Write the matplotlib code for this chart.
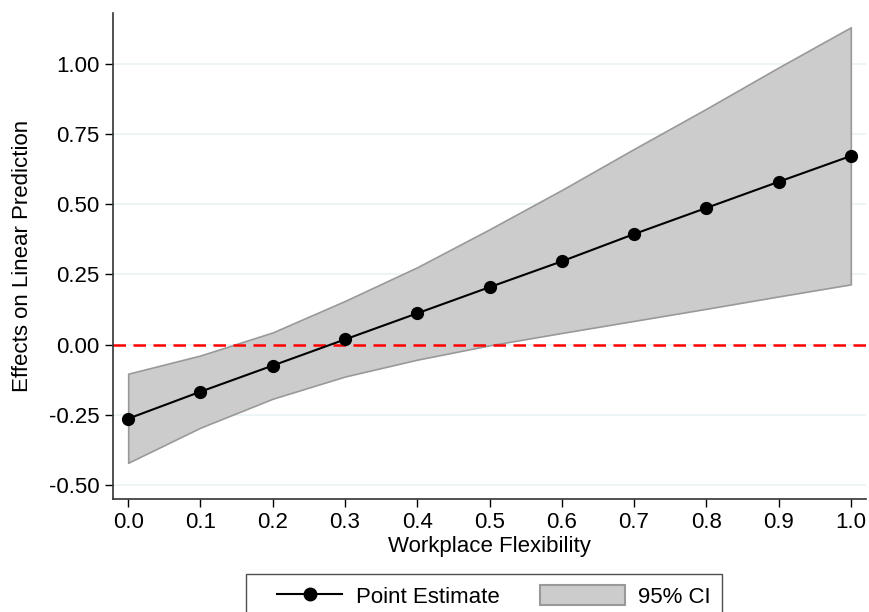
import matplotlib
matplotlib.use('Agg')
import matplotlib.pyplot as plt
from matplotlib.patches import Patch
from matplotlib.lines import Line2D
from matplotlib.legend_handler import HandlerLine2D

plt.rcParams['font.family'] = ['Liberation Sans', 'DejaVu Sans']

# Workplace flexibility grid and marginal effects
flex     = [0.0, 0.1, 0.2, 0.3, 0.4, 0.5, 0.6, 0.7, 0.8, 0.9, 1.0]
estimate = [-0.264, -0.168, -0.075, 0.018, 0.111, 0.204, 0.296, 0.393, 0.486, 0.579, 0.671]
ci_upper = [-0.104, -0.039, 0.043, 0.155, 0.275, 0.410, 0.550, 0.696, 0.839, 0.986, 1.129]
ci_lower = [-0.421, -0.296, -0.193, -0.114, -0.054, -0.003, 0.041, 0.084, 0.127, 0.171, 0.214]

yticks = [-0.50, -0.25, 0.00, 0.25, 0.50, 0.75, 1.00]


class ShiftedLineHandler(HandlerLine2D):
    # draw the line key in the right part of the key area (Stata style)
    def create_artists(self, legend, orig_handle, xdescent, ydescent,
                       width, height, fontsize, trans):
        off = width * 0.23
        return super().create_artists(legend, orig_handle, xdescent - off,
                                      ydescent, width - off, height,
                                      fontsize, trans)


fig = plt.figure(figsize=(8.7, 6.12), dpi=100)
ax = fig.add_axes([0.1299, 0.1846, 0.8655, 0.7942])

for y in yticks:
    ax.axhline(y, color='#eaf2f3', lw=1.2, zorder=0)

ax.fill_between(flex, ci_lower, ci_upper, facecolor='#cccccc',
                edgecolor='#999999', lw=1.2, zorder=1)
ax.axhline(0, color='#ff0000', lw=1.8, ls=(0, (5, 3)), zorder=2)
ax.plot(flex, estimate, '-', color='black', lw=1.5, marker='o',
        markersize=8.5, zorder=3)

ax.set_xlim(-0.021, 1.021)
ax.set_ylim(-0.55, 1.18)
ax.set_xticks(flex)
ax.set_xticklabels([f'{v:.1f}' for v in flex])
ax.set_yticks(yticks)
ax.set_yticklabels([f'{v:.2f}' for v in yticks])
ax.tick_params(labelsize=16, length=6, width=1, direction='out', colors='black')
for s in ('top', 'right'):
    ax.spines[s].set_visible(False)
for s in ('left', 'bottom'):
    ax.spines[s].set_color('#333333')
    ax.spines[s].set_linewidth(1.2)

ax.set_xlabel('Workplace Flexibility', fontsize=16, labelpad=2)
ax.set_ylabel('Effects on Linear Prediction', fontsize=16, labelpad=12)

line_key = Line2D([0], [0], color='black', lw=1.5, marker='o', markersize=9)
ci_key = Patch(facecolor='#cccccc', edgecolor='#999999', lw=1.5)
leg = fig.legend([line_key, ci_key], ['Point Estimate', '95% CI'],
                 loc='upper center', bbox_to_anchor=(0.5563, 0.0621),
                 borderaxespad=0, ncol=2, fontsize=16, frameon=True,
                 fancybox=False, handlelength=3.83, handleheight=1.0,
                 handletextpad=0.6, columnspacing=1.8, borderpad=0.5,
                 handler_map={Line2D: ShiftedLineHandler()})
leg.get_frame().set_edgecolor('#222222')
leg.get_frame().set_linewidth(1.0)

fig.savefig('out.png', dpi=100)
